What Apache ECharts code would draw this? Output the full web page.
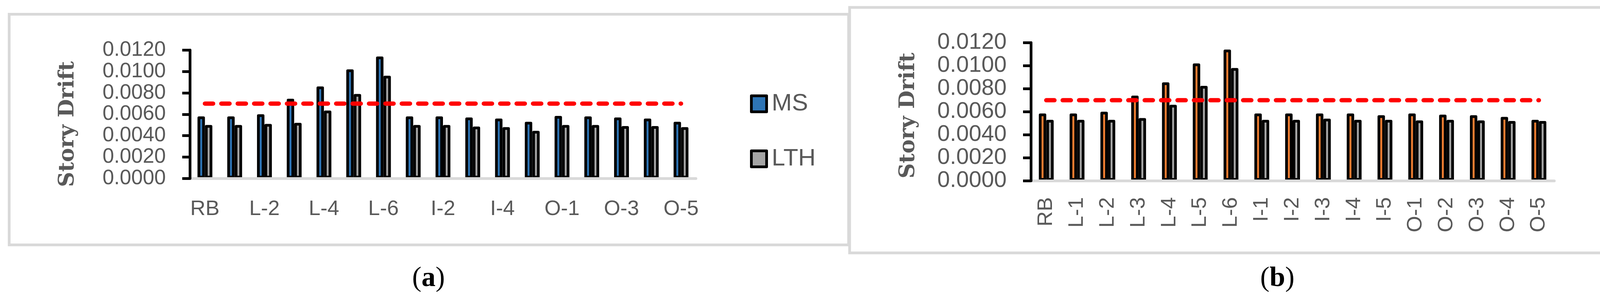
<!DOCTYPE html>
<html>
<head>
<meta charset="utf-8">
<script src="https://cdn.jsdelivr.net/npm/echarts@6/dist/echarts.min.js"></script>
<style>
    html, body { margin: 0; padding: 0; background: #ffffff; }
    #chart { width: 4388px; height: 761px; }
</style>
</head>
<body>
<div id="chart"></div>
<script>
(function () {
    'use strict';

    // story labels, same for both panels
    var stories = ['RB', 'L-1', 'L-2', 'L-3', 'L-4', 'L-5', 'L-6', 'I-1', 'I-2', 'I-3', 'I-4', 'I-5',
        'O-1', 'O-2', 'O-3', 'O-4', 'O-5'];

    // panel (a)
    var msA = [0.0058, 0.0058, 0.0060, 0.00745, 0.0086, 0.0102, 0.0114, 0.0058, 0.0058, 0.0057, 0.0056,
        0.0053, 0.00585, 0.0058, 0.0057, 0.0056, 0.0053];
    var lthA = [0.0050, 0.0050, 0.0051, 0.0052, 0.00635, 0.0079, 0.0096, 0.0050, 0.0050, 0.00485, 0.0048,
        0.00445, 0.0050, 0.0050, 0.0049, 0.0049, 0.0048];

    // panel (b)
    var msB = [0.00585, 0.00585, 0.0060, 0.0074, 0.00855, 0.0102, 0.0114, 0.00585, 0.00585, 0.00585, 0.00585,
        0.0057, 0.00585, 0.00575, 0.0057, 0.00555, 0.0053];
    var lthB = [0.0053, 0.0053, 0.0053, 0.00545, 0.0066, 0.00825, 0.0098, 0.0053, 0.0053, 0.0054, 0.0053,
        0.0053, 0.00525, 0.0053, 0.00525, 0.0052, 0.0052];

    // drift limit (dashed red line)
    var driftLimit = [0.007, 0.007, 0.007, 0.007, 0.007, 0.007, 0.007, 0.007, 0.007, 0.007, 0.007,
        0.007, 0.007, 0.007, 0.007, 0.007, 0.007];

    var yTicks = { min: 0, max: 0.012, interval: 0.002 };

    var TEXT_GREY = '#595959';
    var BORDER_GREY = '#D9D9D9';

    var chart = echarts.init(document.getElementById('chart'), null, { renderer: 'canvas' });

    function makeXAxis(gridIndex, rotated) {
        return {
            type: 'category',
            gridIndex: gridIndex,
            data: stories,
            z: 3,
            axisLine: { lineStyle: { color: BORDER_GREY, width: 7 } },
            axisTick: { show: false },
            axisLabel: {
                interval: rotated ? 0 : 1,
                rotate: rotated ? 90 : 0,
                margin: rotated ? 42 : 52,
                color: TEXT_GREY,
                fontFamily: '"Liberation Sans Narrow", "Liberation Sans", sans-serif',
                fontSize: 54
            },
            splitLine: { show: false }
        };
    }

    // panel (a) is a bit shorter, labels must stay under the tick spacing or echarts drops some
    function makeYAxis(gridIndex, fontSize) {
        return {
            type: 'value',
            gridIndex: gridIndex,
            min: yTicks.min,
            max: yTicks.max,
            interval: yTicks.interval,
            z: 4,
            axisLine: { show: true, lineStyle: { color: '#000000', width: 7 } },
            axisTick: { show: true, inside: false, length: 20, lineStyle: { color: '#000000', width: 7 } },
            axisLabel: {
                margin: 62,
                showMinLabel: true,
                showMaxLabel: true,
                hideOverlap: false,
                color: TEXT_GREY,
                fontFamily: '"Liberation Sans", sans-serif',
                fontSize: fontSize,
                formatter: function (v) { return v.toFixed(4); }
            },
            splitLine: { show: false }
        };
    }

    function makeBar(name, values, color, idx) {
        return {
            name: name,
            type: 'bar',
            xAxisIndex: idx,
            yAxisIndex: idx,
            data: values,
            barWidth: 19,
            barGap: '0%',
            itemStyle: { color: color, borderColor: '#000000', borderWidth: 7, borderJoin: 'round' }
        };
    }

    function makeLimit(idx) {
        return {
            name: 'limit',
            type: 'line',
            xAxisIndex: idx,
            yAxisIndex: idx,
            data: driftLimit,
            symbol: 'none',
            silent: true,
            lineStyle: { color: '#FF0000', width: 11, type: [21, 21], cap: 'round' }
        };
    }

    function makeLegend(left) {
        return {
            data: ['MS', 'LTH'],
            orient: 'vertical',
            left: left,
            top: 230,
            icon: 'rect',
            itemWidth: 39,
            itemHeight: 41,
            itemGap: 79,
            textStyle: { color: TEXT_GREY, fontFamily: '"Liberation Sans", sans-serif', fontSize: 62, padding: [0, 0, 0, 8] },
            itemStyle: { borderColor: '#000000', borderWidth: 7 }
        };
    }

    function yTitle(x, y) {
        return {
            type: 'text',
            x: x,
            y: y,
            rotation: Math.PI / 2,
            style: {
                text: 'Story Drift',
                fill: TEXT_GREY,
                font: 'bold 54px "DejaVu Serif", serif',
                align: 'center',
                verticalAlign: 'middle'
            }
        };
    }

    function caption(x, letter) {
        return {
            type: 'text',
            x: x,
            y: 714,
            style: {
                text: '{p|(}{b|' + letter + '}{p|)}',
                align: 'center',
                verticalAlign: 'middle',
                rich: {
                    p: { font: '72px "Liberation Serif", serif', fill: '#000000' },
                    b: { font: 'bold 72px "Liberation Serif", serif', fill: '#000000' }
                }
            }
        };
    }

    var option = {
        animation: false,
        backgroundColor: '#ffffff',
        grid: [
            { left: 486.5, top: 128.3, width: 1295, height: 329 },
            { left: 2639, top: 109.3, width: 1340, height: 354 }
        ],
        xAxis: [makeXAxis(0, false), makeXAxis(1, true)],
        yAxis: [makeYAxis(0, 53), makeYAxis(1, 58)],
        legend: [makeLegend(1915), makeLegend(4115)],
        series: [
            makeBar('MS', msA, '#2E75B6', 0),
            makeBar('LTH', lthA, '#A5A5A5', 0),
            makeLimit(0),
            makeBar('MS', msB, '#ED7D31', 1),
            makeBar('LTH', lthB, '#A5A5A5', 1),
            makeLimit(1)
        ],
        graphic: [
            {
                type: 'rect', z: -1, silent: true,
                shape: { x: 23.5, y: 36.5, width: 2149, height: 591 },
                style: { fill: 'none', stroke: BORDER_GREY, lineWidth: 7 }
            },
            {
                type: 'rect', z: -1, silent: true,
                shape: { x: 2175, y: 19, width: 2193, height: 629 },
                style: { fill: 'none', stroke: BORDER_GREY, lineWidth: 7 }
            },
            yTitle(174, 318),
            yTitle(2326, 296),
            caption(1097, 'a'),
            caption(3270, 'b')
        ]
    };

    chart.setOption(option);
})();
</script>
</body>
</html>
